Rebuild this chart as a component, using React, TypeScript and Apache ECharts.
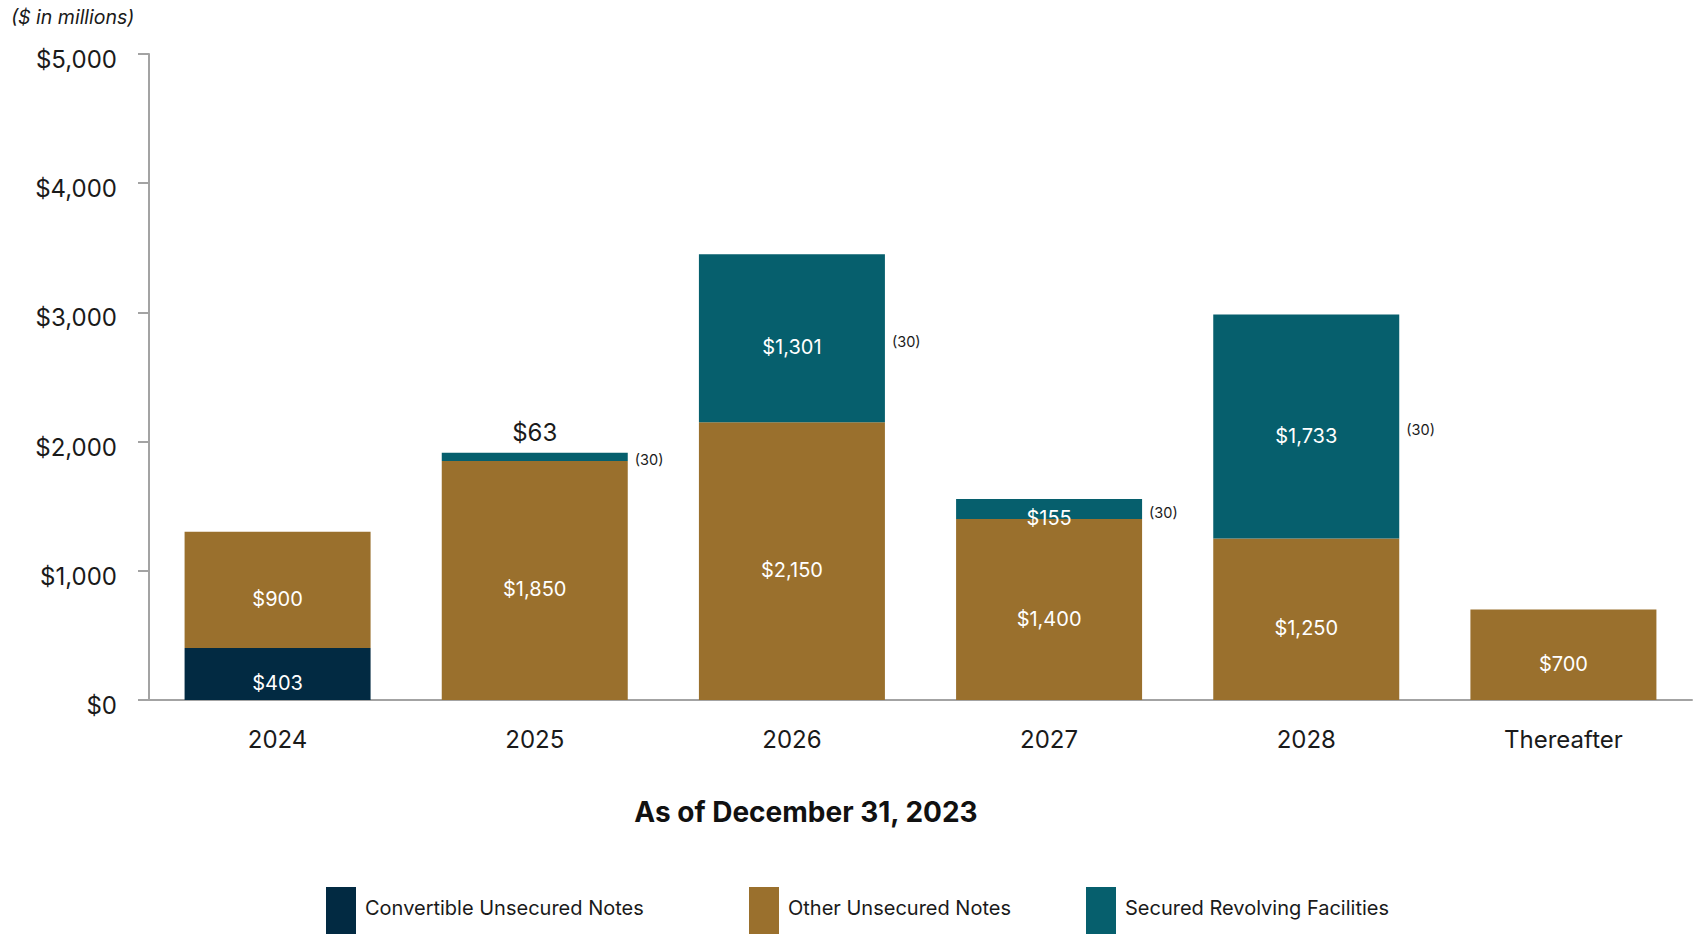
import React, { useEffect, useRef } from "react";
import * as echarts from "echarts";

const categories = ["2024", "2025", "2026", "2027", "2028", "Thereafter"];
const convertibleUnsecured = [403, null, null, null, null, null];
const otherUnsecured = [900, 1850, 2150, 1400, 1250, 700];
const securedRevolving = [null, 63, 1301, 155, 1733, null];
const securedAdjustments = [null, "(30)", "(30)", "(30)", "(30)", null];
const labelAboveCategories = ["2025"];
const yMin = 0;
const yMax = 5000;
const yInterval = 1000;

const seriesNames = [
  "Convertible Unsecured Notes",
  "Other Unsecured Notes",
  "Secured Revolving Facilities",
];
const colors = ["#022a42", "#9a702d", "#065f6d"];
const FONT = "Inter, 'Noto Sans', sans-serif";

const money = (v: number) => "$" + v.toLocaleString("en-US");

export default function App() {
  const ref = useRef<HTMLDivElement>(null);
  useEffect(() => {
    if (!ref.current) return;
    const chart = echarts.init(ref.current, undefined, { renderer: "svg" });
    const BW = 186;
    const inside = {
      show: true,
      position: "inside" as const,
      color: "#ffffff",
      fontSize: 20,
      fontFamily: FONT,
      offset: [0, 9],
      formatter: (p: any) => money(p.value),
    };
    const baseForAnnot = categories.map((_, i) =>
      securedRevolving[i] == null
        ? null
        : (convertibleUnsecured[i] || 0) + (otherUnsecured[i] || 0)
    );
    const securedData = securedRevolving.map((v, i) =>
      labelAboveCategories.includes(categories[i]) && v != null
        ? {
            value: v,
            label: {
              show: true,
              position: "top",
              distance: 8,
              offset: [0, 0],
              color: "#1a1a1a",
              fontSize: 24,
            },
          }
        : v
    );
    chart.setOption({
      animation: false,
      grid: { left: 149, right: 2, top: 54, bottom: 234, containLabel: false },
      legend: seriesNames.map((n, i) => ({
        data: [n],
        left: [326, 749, 1086][i],
        top: 887,
        padding: 0,
        itemWidth: 30,
        itemHeight: 50,
        icon: "rect",
        selectedMode: false,
        formatter: (name: string) => `{t|${name}}`,
        textStyle: {
          fontSize: 20,
          fontFamily: FONT,
          color: "#1a1a1a",
          rich: {
            t: {
              fontSize: 20,
              fontFamily: FONT,
              color: "#1a1a1a",
              padding: [0, 0, 9, 4],
            },
          },
        },
      })),
      graphic: [
        {
          type: "text",
          x: 11,
          y: 17,
          style: {
            text: "($ in millions)",
            fontSize: 19.5,
            fontStyle: "italic",
            fontFamily: FONT,
            fill: "#1a1a1a",
            align: "left",
            verticalAlign: "middle",
          },
        },
        {
          type: "text",
          x: 806,
          y: 812,
          style: {
            text: "As of December 31, 2023",
            fontSize: 28,
            fontWeight: "bold",
            fontFamily: FONT,
            fill: "#111111",
            align: "center",
            verticalAlign: "middle",
          },
        },
      ],
      xAxis: {
        type: "category",
        data: categories,
        axisLine: { lineStyle: { color: "#a3a3a3", width: 2 } },
        axisTick: {
          alignWithLabel: true,
          length: 10,
          lineStyle: { color: "#a3a3a3", width: 2 },
        },
        axisLabel: {
          fontSize: 24,
          fontFamily: FONT,
          color: "#1a1a1a",
          margin: 27,
        },
      },
      yAxis: {
        type: "value",
        min: yMin,
        max: yMax,
        interval: yInterval,
        splitLine: { show: false },
        axisLine: { show: true, lineStyle: { color: "#a3a3a3", width: 2 } },
        axisTick: {
          show: true,
          length: 11,
          lineStyle: { color: "#a3a3a3", width: 2 },
        },
        axisLabel: {
          fontSize: 24,
          fontFamily: FONT,
          color: "#1a1a1a",
          margin: 32,
          formatter: (v: number) => `{v|${money(v)}}`,
          rich: {
            v: {
              fontSize: 24,
              fontFamily: FONT,
              color: "#1a1a1a",
              padding: [11, 0, 0, 0],
            },
          },
        },
      },
      series: [
        {
          name: seriesNames[0],
          type: "bar",
          stack: "total",
          barWidth: BW,
          barGap: "-100%",
          itemStyle: { color: colors[0] },
          label: inside,
          data: convertibleUnsecured,
        },
        {
          name: seriesNames[1],
          type: "bar",
          stack: "total",
          barWidth: BW,
          itemStyle: { color: colors[1] },
          label: inside,
          data: otherUnsecured,
        },
        {
          name: seriesNames[2],
          type: "bar",
          stack: "total",
          barWidth: BW,
          itemStyle: { color: colors[2] },
          label: inside,
          data: securedData,
        },
        {
          name: "_annotBase",
          type: "bar",
          stack: "annot",
          barWidth: BW,
          silent: true,
          itemStyle: { color: "rgba(0,0,0,0)" },
          data: baseForAnnot,
        },
        {
          name: "_annotAdj",
          type: "bar",
          stack: "annot",
          barWidth: BW,
          silent: true,
          itemStyle: { color: "rgba(0,0,0,0)" },
          label: {
            show: true,
            position: "right",
            distance: 7,
            offset: [0, 3],
            fontSize: 14.5,
            fontFamily: FONT,
            color: "#1a1a1a",
            formatter: (p: any) => securedAdjustments[p.dataIndex] || "",
          },
          data: securedRevolving,
        },
      ],
    });
    return () => chart.dispose();
  }, []);
  return (
    <div
      ref={ref}
      style={{ position: "fixed", left: 0, top: 0, width: 1694, height: 934, background: "#fff" }}
    />
  );
}
